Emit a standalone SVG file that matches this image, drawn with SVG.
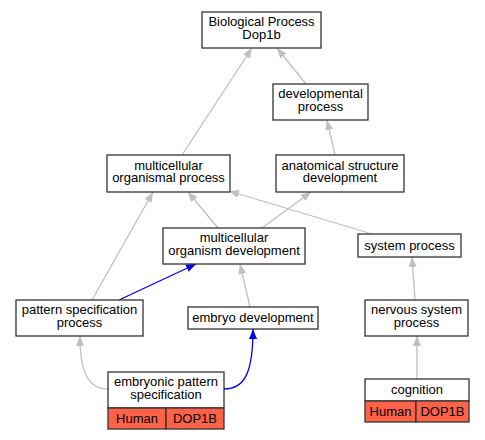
<svg xmlns="http://www.w3.org/2000/svg" width="485" height="440" viewBox="0 0 485 440">
<style>
.n{fill:#fff;stroke:#333;stroke-width:1.3}
.o{fill:#ff6347;stroke:#333;stroke-width:1.3}
.t{font-family:"Liberation Sans",Arial,sans-serif;font-size:13px;text-anchor:middle;fill:#000}
.g{fill:none;stroke:#c0c0c0;stroke-width:1.3}
.b{fill:none;stroke:#0000ff;stroke-width:1.3}
</style>
<defs>
<marker id="ag" markerUnits="userSpaceOnUse" markerWidth="11" markerHeight="8" refX="10" refY="4" orient="auto"><path d="M0,0 L10,4 L0,8 z" fill="#c0c0c0"/></marker>
<marker id="ab" markerUnits="userSpaceOnUse" markerWidth="11" markerHeight="8" refX="10" refY="4" orient="auto"><path d="M0,0 L10,4 L0,8 z" fill="#0000ff"/></marker>
</defs>
<g id="edges">
<path class="g" marker-end="url(#ag)" d="M182,155 L252,48"/>
<path class="g" marker-end="url(#ag)" d="M306,84 L277,48"/>
<path class="g" marker-end="url(#ag)" d="M335,155 L327,120"/>
<path class="g" marker-end="url(#ag)" d="M218,228 L188,192"/>
<path class="g" marker-end="url(#ag)" d="M262,228 L311,192"/>
<path class="g" marker-end="url(#ag)" d="M372,234 L229,191"/>
<path class="g" marker-end="url(#ag)" d="M92,300 L153,192"/>
<path class="b" marker-end="url(#ab)" d="M119,300 L196,264"/>
<path class="g" marker-end="url(#ag)" d="M250,307 L240,264"/>
<path class="g" marker-end="url(#ag)" d="M415,300 L412,257"/>
<path class="g" marker-end="url(#ag)" d="M108,389 C88,389 80,372 80,336"/>
<path class="b" marker-end="url(#ab)" d="M224,389 C245,389 253,372 253,329"/>
<path class="g" marker-end="url(#ag)" d="M417,379 L417,336"/>
</g>
<g id="bp"><rect class="n" x="202" y="12" width="119" height="36"/><text class="t" x="261.5" y="26">Biological Process</text><text class="t" x="261.5" y="38.5">Dop1b</text></g>
<g id="dp"><rect class="n" x="273" y="84" width="95" height="36"/><text class="t" x="320.5" y="98">developmental</text><text class="t" x="320.5" y="110.5">process</text></g>
<g id="mop"><rect class="n" x="107" y="155" width="123" height="37"/><text class="t" x="168.5" y="169.5">multicellular</text><text class="t" x="168.5" y="182">organismal process</text></g>
<g id="asd"><rect class="n" x="276" y="155" width="128" height="37"/><text class="t" x="340" y="169.5">anatomical structure</text><text class="t" x="340" y="182">development</text></g>
<g id="mod"><rect class="n" x="163" y="228" width="142" height="36"/><text class="t" x="234" y="242">multicellular</text><text class="t" x="234" y="254.5">organism development</text></g>
<g id="sp"><rect class="n" x="358" y="234" width="103" height="23"/><text class="t" x="409.5" y="249.5">system process</text></g>
<g id="psp"><rect class="n" x="16" y="300" width="127" height="36"/><text class="t" x="79.5" y="314">pattern specification</text><text class="t" x="79.5" y="326.5">process</text></g>
<g id="ed"><rect class="n" x="188" y="307" width="130" height="22"/><text class="t" x="253" y="322">embryo development</text></g>
<g id="nsp"><rect class="n" x="365" y="300" width="103" height="36"/><text class="t" x="416.5" y="314">nervous system</text><text class="t" x="416.5" y="326.5">process</text></g>
<g id="eps"><rect class="n" x="108" y="372" width="116" height="36"/><rect class="o" x="108" y="408" width="58" height="21"/><rect class="o" x="166" y="408" width="58" height="21"/><text class="t" x="166" y="386">embryonic pattern</text><text class="t" x="166" y="398.5">specification</text><text class="t" x="137" y="423">Human</text><text class="t" x="195" y="423">DOP1B</text></g>
<g id="cog"><rect class="n" x="365" y="379" width="104" height="22"/><rect class="o" x="365" y="401" width="51" height="21"/><rect class="o" x="416" y="401" width="53" height="21"/><text class="t" x="417" y="394">cognition</text><text class="t" x="390.5" y="416">Human</text><text class="t" x="442.5" y="416">DOP1B</text></g>
</svg>
